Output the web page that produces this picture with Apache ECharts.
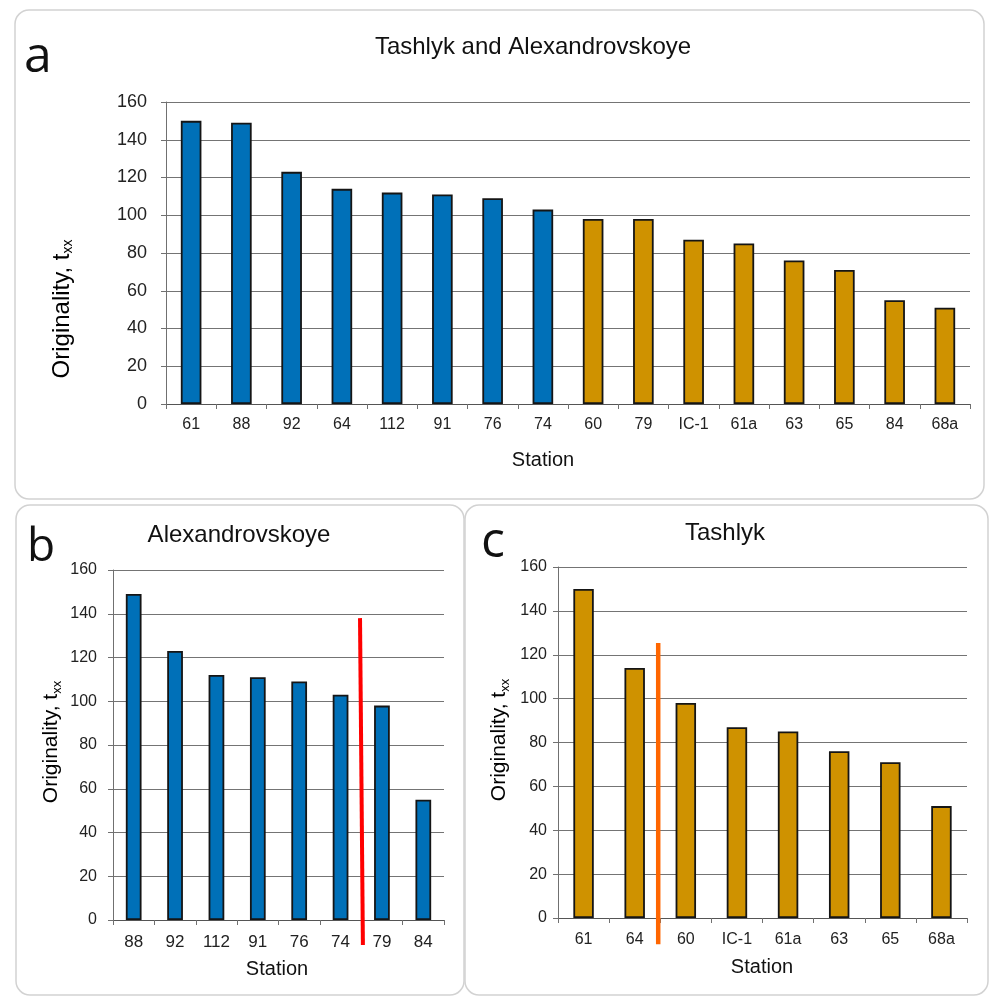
<!DOCTYPE html>
<html>
<head>
<meta charset="utf-8">
<script src="https://cdn.jsdelivr.net/npm/echarts@6/dist/echarts.min.js"></script>
<style>
html,body{margin:0;padding:0;background:#fff;}
#chart{width:992px;height:998px;}
</style>
</head>
<body>
<div id="chart"></div>
<script>
// ---- data ----
const stationsA = ['61','88','92','64','112','91','76','74','60','79','IC-1','61a','63','65','84','68a'];
const valuesA   = [150,149,123,114,112,111,109,103,98,98,87,85,76,71,55,51];
const groupA    = ['high','high','high','high','high','high','high','high','low','low','low','low','low','low','low','low'];

const stationsB = ['88','92','112','91','76','74','79','84'];
const valuesB   = [149,123,112,111,109,103,98,55];

const stationsC = ['61','64','60','IC-1','61a','63','65','68a'];
const valuesC   = [150,114,98,87,85,76,71,51];

// divider lines: [position on category-boundary scale (0..8), value]
const dividerB = [[5.97, 138], [6.04, -11.4]];
const dividerC = [[1.96, 125.4], [1.96, -12]];

const yTicks = [0,20,40,60,80,100,120,140,160];

const titles = ['Tashlyk and Alexandrovskoye', 'Alexandrovskoye', 'Tashlyk'];
const panelLetters = ['a','b','c'];
const xName = 'Station';

// ---- styles ----
const BLUE = '#0070B8';
const GOLD = '#CF9200';
const colorOf = {high: BLUE, low: GOLD};
const FONT = '"Liberation Sans", Arial, sans-serif';
const LETTER_FONT = '"Open Sans", "Noto Sans", sans-serif';

const chart = echarts.init(document.getElementById('chart'));

function yAxisCfg(gridIndex, fs, margin) {
  return {
    type: 'value', gridIndex, min: yTicks[0], max: yTicks[yTicks.length-1], interval: yTicks[1]-yTicks[0],
    axisLine: {show: true, lineStyle: {color: '#707070', width: 1}},
    axisTick: {show: true, length: 5, lineStyle: {color: '#707070'}},
    axisLabel: {fontSize: fs, color: '#222', fontFamily: FONT, margin},
    splitLine: {show: true, lineStyle: {color: '#747474', width: 1}}
  };
}
function xAxisCfg(gridIndex, data, fs, margin) {
  return {
    type: 'category', gridIndex, data, boundaryGap: true,
    axisLine: {show: true, lineStyle: {color: '#555', width: 1}},
    axisTick: {show: true, length: 5, lineStyle: {color: '#707070'}},
    axisLabel: {fontSize: fs, color: '#222', fontFamily: FONT, margin, interval: 0}
  };
}
function hiddenX(gridIndex) {
  return {type: 'value', gridIndex, min: 0, max: 8, show: false, splitLine: {show: false}};
}
function yName(x, y, fs) {
  return {
    type: 'text', x, y, rotation: Math.PI/2, z: 10,
    style: {
      text: '{base|Originality, t}{sub|xx}',
      rich: {
        base: {fontSize: fs, fontFamily: FONT, color: '#111'},
        sub: {fontSize: Math.round(fs*0.6), fontFamily: FONT, color: '#111', padding: [Math.round(fs*0.55), 0, 0, 0]}
      },
      align: 'center', verticalAlign: 'middle'
    }
  };
}
function txt(text, x, y, fs, family) {
  return {type: 'text', x, y, z: 10, style: {text, fontSize: fs, fontFamily: family || FONT, fill: '#111', align: 'center', verticalAlign: 'middle'}};
}
function panel(x, y, w, h) {
  return {type: 'rect', shape: {x, y, width: w, height: h, r: 14}, z: 0,
    style: {fill: '#fff', stroke: '#d2d2d2', lineWidth: 1.5}};
}

const barStyle = {borderColor: '#151515', borderWidth: 1.8};

const option = {
  animation: false,
  backgroundColor: '#fff',
  grid: [
    {left: 166, top: 102, width: 804, height: 302, show: true, borderColor: '#8a8a8a', borderWidth: 1},
    {left: 113, top: 570, width: 331, height: 350, show: true, borderColor: '#8a8a8a', borderWidth: 1},
    {left: 558, top: 567, width: 409, height: 351, show: true, borderColor: '#8a8a8a', borderWidth: 1}
  ],
  xAxis: [
    xAxisCfg(0, stationsA, 16, 13),
    xAxisCfg(1, stationsB, 17, 14),
    xAxisCfg(2, stationsC, 16, 14),
    hiddenX(1),
    hiddenX(2)
  ],
  yAxis: [
    yAxisCfg(0, 18, 19),
    yAxisCfg(1, 16, 16),
    yAxisCfg(2, 16, 11)
  ],
  graphic: [
    panel(15, 10, 969, 489),
    panel(16, 505, 448, 490),
    panel(465, 505, 523, 490),
    txt(panelLetters[0], 38, 58, 50, LETTER_FONT),
    txt(panelLetters[1], 41, 548, 46, LETTER_FONT),
    txt(panelLetters[2], 493, 543, 50, LETTER_FONT),
    txt(titles[0], 533, 47, 24),
    txt(titles[1], 239, 535, 24),
    txt(titles[2], 725, 533, 24),
    txt(xName, 543, 460, 20),
    txt(xName, 277, 969, 20),
    txt(xName, 762, 967, 20),
    yName(62, 309, 24),
    yName(51, 742, 21),
    yName(499, 740, 21)
  ],
  series: [
    {
      type: 'bar', xAxisIndex: 0, yAxisIndex: 0, barWidth: '41%',
      data: valuesA.map((v, i) => ({value: v, itemStyle: {color: colorOf[groupA[i]]}})),
      itemStyle: barStyle
    },
    {
      type: 'bar', xAxisIndex: 1, yAxisIndex: 1, barWidth: '38%',
      data: valuesB, itemStyle: Object.assign({color: BLUE}, barStyle)
    },
    {
      type: 'bar', xAxisIndex: 2, yAxisIndex: 2, barWidth: '40%',
      data: valuesC, itemStyle: Object.assign({color: GOLD}, barStyle)
    },
    {
      type: 'line', xAxisIndex: 3, yAxisIndex: 1, data: dividerB, clip: false, symbol: 'none', z: 5,
      lineStyle: {color: '#FF0000', width: 4}
    },
    {
      type: 'line', xAxisIndex: 4, yAxisIndex: 2, data: dividerC, clip: false, symbol: 'none', z: 5,
      lineStyle: {color: '#FF6600', width: 4.5}
    }
  ]
};
chart.setOption(option);
</script>
</body>
</html>
